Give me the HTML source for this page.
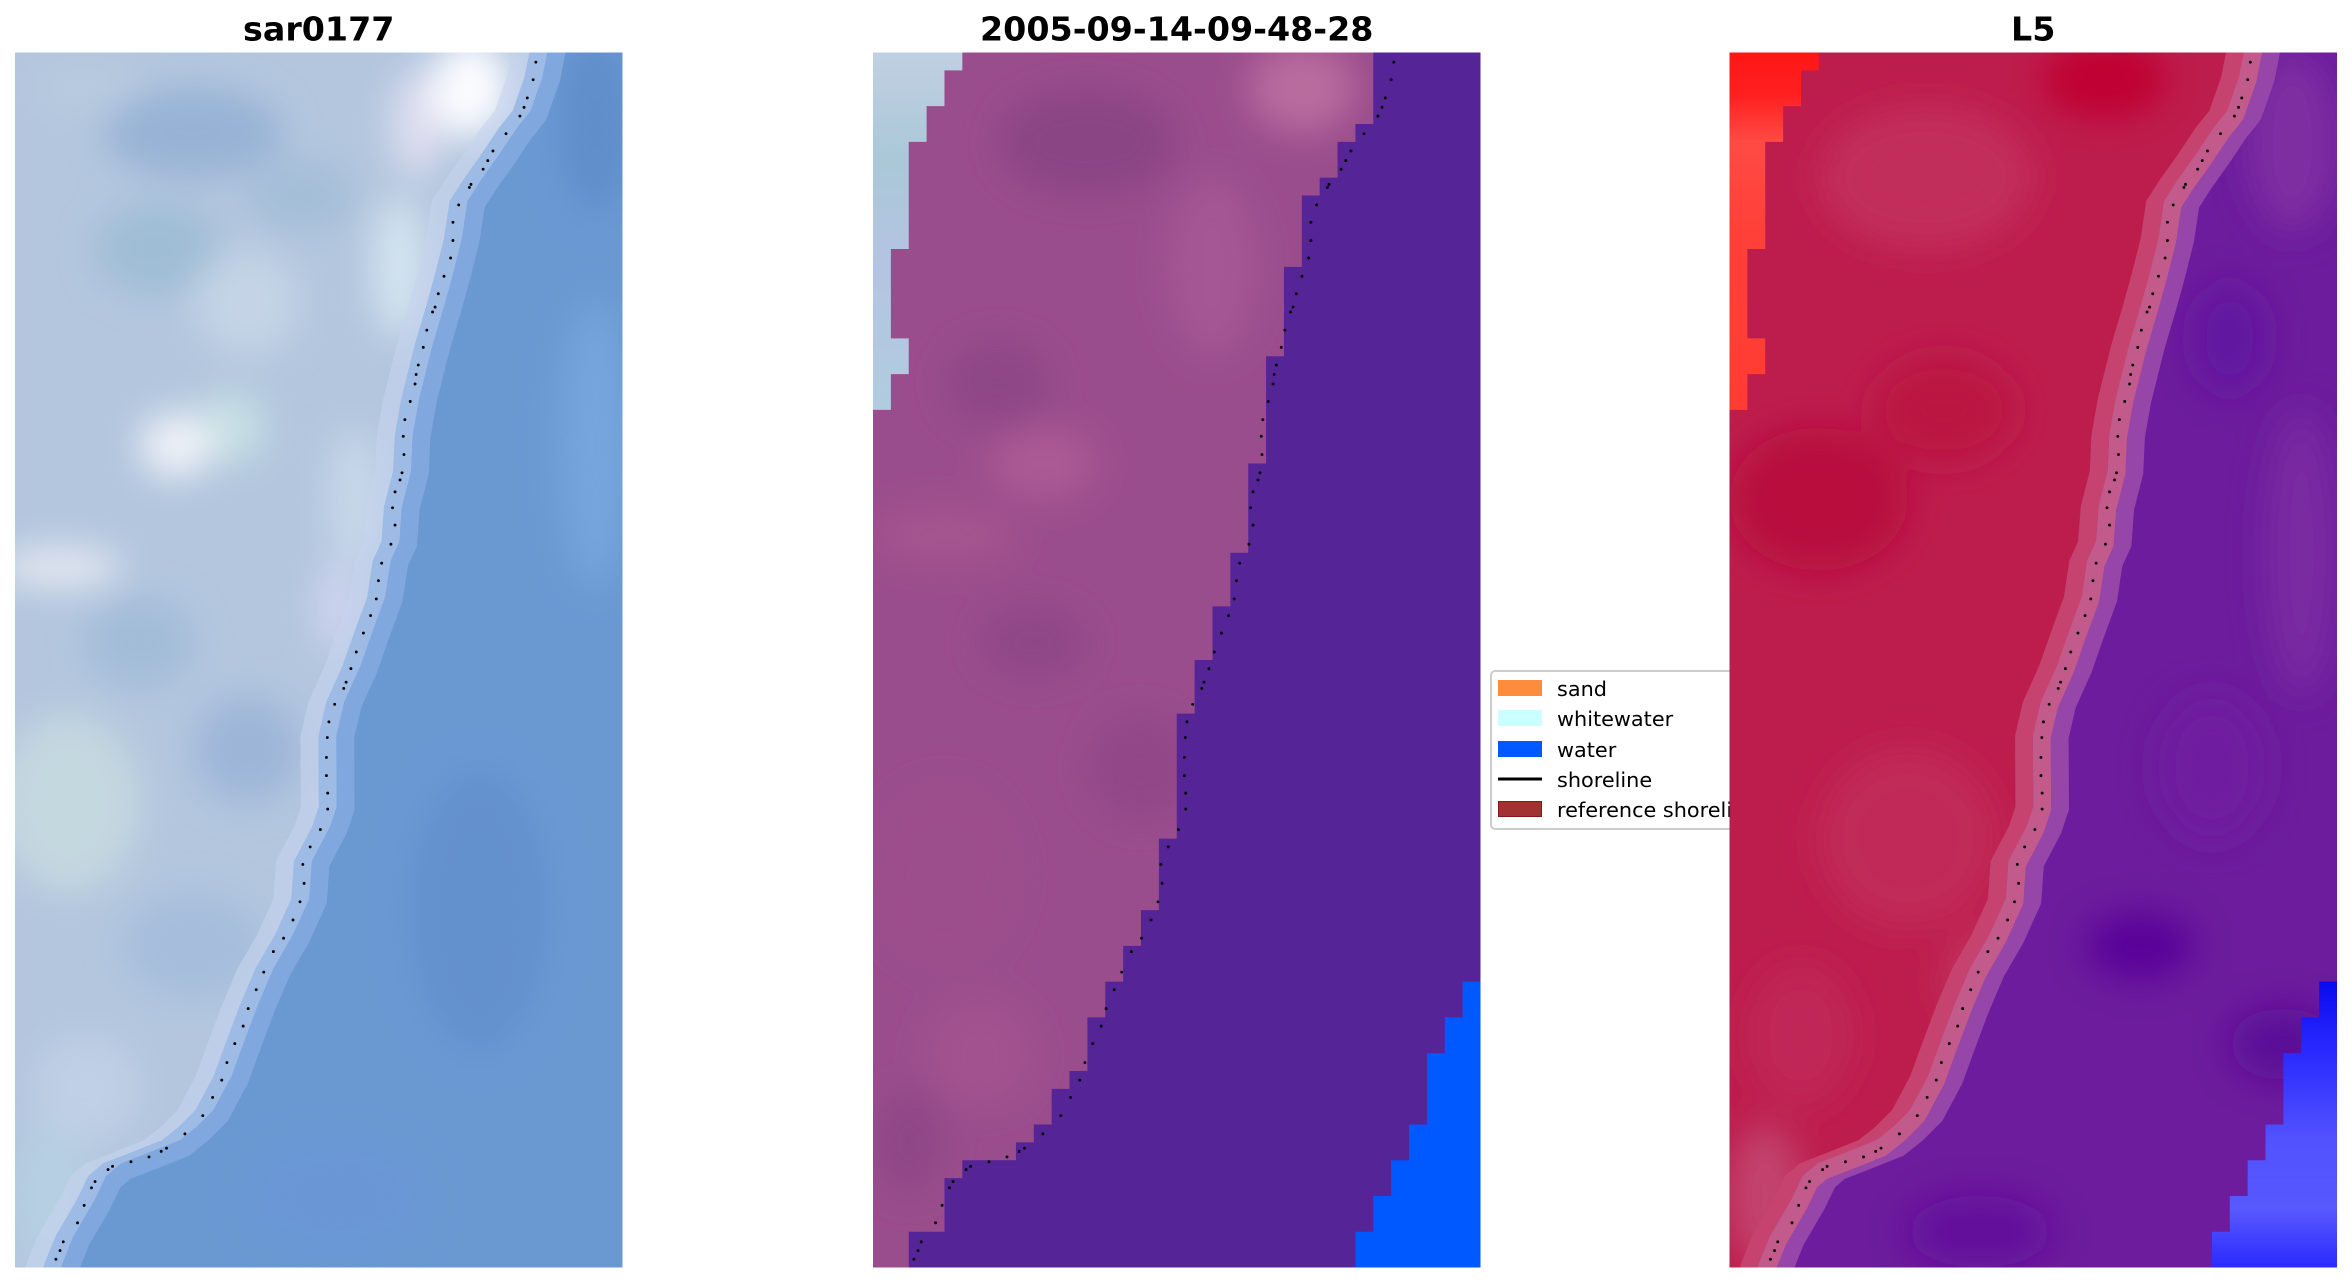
<!DOCTYPE html>
<html>
<head>
<meta charset="utf-8">
<style>
html,body{margin:0;padding:0;background:#ffffff;}
svg{display:block;}
</style>
</head>
<body>
<svg width="2352" height="1283" viewBox="0 0 2352 1283" xmlns="http://www.w3.org/2000/svg">
<defs>
  <filter id="bl" x="-50%" y="-50%" width="200%" height="200%"><feGaussianBlur stdDeviation="1"/></filter>
  <clipPath id="pc"><rect x="0" y="0" width="34" height="68"/></clipPath>
  <polyline id="S" fill="none" points="29.8,-2 29.3,0 29.0,1.5 28.3,3.5 27.5,4.5 26.5,6 25.5,7.4 24.8,8.5 24.5,10.5 24.0,12.5 23.5,14.3 22.85,16.5 22.1,19.5 21.75,21.5 21.66,23.5 21.15,25.5 21.0,27.5 20.5,28.6 20.2,30.6 19.5,32.5 18.8,34.5 17.9,36.5 17.48,38.3 17.5,42.3 17.1,43.5 16.1,45.4 15.95,47.5 15.0,49.6 13.9,51.5 13.05,53.5 12.3,55.5 11.57,57.5 10.5,59.5 9.5,60.5 8.5,61.3 6.5,62.1 5.2,62.6 4.5,63.2 3.87,64.5 2.7,66.5 2.1,68 1.5,70"/>
  <polygon id="W" points="29.8,-2 29.3,0 29.0,1.5 28.3,3.5 27.5,4.5 26.5,6 25.5,7.4 24.8,8.5 24.5,10.5 24.0,12.5 23.5,14.3 22.85,16.5 22.1,19.5 21.75,21.5 21.66,23.5 21.15,25.5 21.0,27.5 20.5,28.6 20.2,30.6 19.5,32.5 18.8,34.5 17.9,36.5 17.48,38.3 17.5,42.3 17.1,43.5 16.1,45.4 15.95,47.5 15.0,49.6 13.9,51.5 13.05,53.5 12.3,55.5 11.57,57.5 10.5,59.5 9.5,60.5 8.5,61.3 6.5,62.1 5.2,62.6 4.5,63.2 3.87,64.5 2.7,66.5 2.1,68 1.5,70 36,70 36,-2"/>
  <g id="D" fill="#000000">
    <circle cx="29.15" cy="0.54" r="0.08"/><circle cx="29.0" cy="1.52" r="0.08"/><circle cx="28.67" cy="2.54" r="0.08"/><circle cx="28.49" cy="3.07" r="0.08"/><circle cx="28.26" cy="3.56" r="0.08"/><circle cx="27.48" cy="4.54" r="0.08"/><circle cx="26.75" cy="5.51" r="0.08"/><circle cx="26.46" cy="6.05" r="0.08"/><circle cx="26.2" cy="6.53" r="0.08"/><circle cx="25.52" cy="7.38" r="0.08"/><circle cx="25.43" cy="7.55" r="0.08"/><circle cx="24.83" cy="8.53" r="0.08"/><circle cx="24.51" cy="9.5" r="0.08"/><circle cx="24.51" cy="10.52" r="0.08"/><circle cx="24.38" cy="11.5" r="0.08"/><circle cx="24.01" cy="12.52" r="0.08"/><circle cx="23.69" cy="13.5" r="0.08"/><circle cx="23.51" cy="14.25" r="0.08"/><circle cx="23.37" cy="14.52" r="0.08"/><circle cx="23.05" cy="15.54" r="0.08"/><circle cx="22.85" cy="16.5" r="0.08"/><circle cx="22.57" cy="17.49" r="0.08"/><circle cx="22.45" cy="18.02" r="0.08"/><circle cx="22.39" cy="18.55" r="0.08"/><circle cx="22.12" cy="19.53" r="0.08"/><circle cx="21.82" cy="20.55" r="0.08"/><circle cx="21.73" cy="21.48" r="0.08"/><circle cx="21.77" cy="22.5" r="0.08"/><circle cx="21.66" cy="23.52" r="0.08"/><circle cx="21.55" cy="23.92" r="0.08"/><circle cx="21.27" cy="24.59" r="0.08"/><circle cx="21.13" cy="25.48" r="0.08"/><circle cx="21.27" cy="26.45" r="0.08"/><circle cx="21.04" cy="27.52" r="0.08"/><circle cx="20.52" cy="28.58" r="0.08"/><circle cx="20.34" cy="29.56" r="0.08"/><circle cx="20.22" cy="30.58" r="0.08"/><circle cx="19.9" cy="31.51" r="0.08"/><circle cx="19.5" cy="32.49" r="0.08"/><circle cx="19.1" cy="33.55" r="0.08"/><circle cx="18.8" cy="34.48" r="0.08"/><circle cx="18.53" cy="35.24" r="0.08"/><circle cx="18.4" cy="35.59" r="0.08"/><circle cx="17.89" cy="36.48" r="0.08"/><circle cx="17.57" cy="37.46" r="0.08"/><circle cx="17.48" cy="38.34" r="0.08"/><circle cx="17.43" cy="39.45" r="0.08"/><circle cx="17.43" cy="40.47" r="0.08"/><circle cx="17.5" cy="41.45" r="0.08"/><circle cx="17.5" cy="42.34" r="0.08"/><circle cx="17.09" cy="43.49" r="0.08"/><circle cx="16.52" cy="44.46" r="0.08"/><circle cx="16.11" cy="45.44" r="0.08"/><circle cx="16.18" cy="46.5" r="0.08"/><circle cx="15.95" cy="47.53" r="0.08"/><circle cx="15.56" cy="48.55" r="0.08"/><circle cx="15.03" cy="49.57" r="0.08"/><circle cx="14.46" cy="50.32" r="0.08"/><circle cx="13.92" cy="51.47" r="0.08"/><circle cx="13.5" cy="52.45" r="0.08"/><circle cx="13.05" cy="53.51" r="0.08"/><circle cx="12.77" cy="54.49" r="0.08"/><circle cx="12.3" cy="55.47" r="0.08"/><circle cx="11.86" cy="56.53" r="0.08"/><circle cx="11.57" cy="57.51" r="0.08"/><circle cx="11.06" cy="58.48" r="0.08"/><circle cx="10.51" cy="59.5" r="0.08"/><circle cx="9.51" cy="60.52" r="0.08"/><circle cx="8.48" cy="61.32" r="0.08"/><circle cx="8.18" cy="61.5" r="0.08"/><circle cx="7.5" cy="61.81" r="0.08"/><circle cx="6.49" cy="62.08" r="0.08"/><circle cx="5.46" cy="62.34" r="0.08"/><circle cx="5.21" cy="62.52" r="0.08"/><circle cx="4.48" cy="63.19" r="0.08"/><circle cx="4.28" cy="63.54" r="0.08"/><circle cx="3.87" cy="64.52" r="0.08"/><circle cx="3.5" cy="65.5" r="0.08"/><circle cx="2.7" cy="66.56" r="0.08"/><circle cx="2.52" cy="67.05" r="0.08"/><circle cx="2.29" cy="67.54" r="0.08"/>
  </g>
  <polygon id="WW" points="0,0 5,0 5,1 4,1 4,3 3,3 3,5 2,5 2,11 1,11 1,16 2,16 2,18 1,18 1,20 0,20"/>
  <polygon id="B" points="34,52 33,52 33,54 32,54 32,56 31,56 31,60 30,60 30,62 29,62 29,64 28,64 28,66 27,66 27,68 34,68"/>
  <linearGradient id="gw2" x1="0" y1="0" x2="0" y2="1">
    <stop offset="0" stop-color="#c0d0e2"/><stop offset="0.3" stop-color="#aac8d8"/><stop offset="0.6" stop-color="#b4c4e2"/><stop offset="1" stop-color="#b0cce0"/>
  </linearGradient>
  <linearGradient id="gw3" x1="0" y1="0" x2="0" y2="1">
    <stop offset="0" stop-color="#ff1616"/><stop offset="0.12" stop-color="#ff2020"/><stop offset="0.25" stop-color="#ff4a44"/><stop offset="0.5" stop-color="#ff4038"/><stop offset="1" stop-color="#ff3c34"/>
  </linearGradient>
  <linearGradient id="gb3" x1="0" y1="0" x2="0" y2="1">
    <stop offset="0" stop-color="#0a0af0"/><stop offset="0.25" stop-color="#2a2aff"/><stop offset="0.55" stop-color="#5252ff"/><stop offset="0.8" stop-color="#5858ff"/><stop offset="1" stop-color="#2a2aff"/>
  </linearGradient>
</defs>

<!-- Titles -->
<g font-family="'DejaVu Sans','Liberation Sans',sans-serif" font-weight="bold" font-size="33.3" fill="#000" text-anchor="middle">
  <text x="318.75" y="40.7">sar0177</text>
  <text x="1176.75" y="40.7">2005-09-14-09-48-28</text>
  <text x="2033.25" y="40.7">L5</text>
</g>

<!-- Panel 1 -->
<g transform="translate(15,52.5) scale(17.8676)">
 <g clip-path="url(#pc)">
  <rect x="0" y="0" width="34" height="68" fill="#b3c6de"/>
  <g filter="url(#bl)">
    <ellipse cx="10" cy="4.5" rx="5" ry="2.5" fill="#97b2d5"/>
    <ellipse cx="4" cy="2" rx="3" ry="1.5" fill="#b8cadf"/>
    <ellipse cx="8" cy="11" rx="3.5" ry="2.5" fill="#9fbdd5"/>
    <ellipse cx="13" cy="14" rx="3" ry="3" fill="#c4d4e6"/>
    <ellipse cx="16" cy="8" rx="3" ry="2" fill="#a4bed8"/>
    <ellipse cx="12" cy="21" rx="2" ry="2" fill="#c8e0e4"/>
    <ellipse cx="9" cy="22" rx="2" ry="1.8" fill="#f0f2f8"/>
    <ellipse cx="2.5" cy="28.8" rx="3.5" ry="1.2" fill="#e2e6f0"/>
    <ellipse cx="7" cy="33" rx="3" ry="2.5" fill="#a2bcd8"/>
    <ellipse cx="3" cy="42" rx="4" ry="5" fill="#c4d8e0"/>
    <ellipse cx="13" cy="39" rx="3" ry="3" fill="#9db6d8"/>
    <ellipse cx="10" cy="50" rx="4" ry="3" fill="#a6bedc"/>
    <ellipse cx="4" cy="58" rx="3" ry="3" fill="#c0d0e6"/>
    <ellipse cx="2" cy="64" rx="2" ry="4" fill="#b6d0e2"/>
    <ellipse cx="19" cy="25" rx="1.5" ry="4" fill="#c8d8ea"/>
    <ellipse cx="18" cy="31" rx="1.2" ry="2.5" fill="#d0d4f0"/>
    <ellipse cx="21.5" cy="12" rx="1.5" ry="4" fill="#d4e4f0"/>
    <ellipse cx="22.5" cy="4" rx="1.5" ry="3" fill="#dedef0"/>
    <ellipse cx="25.5" cy="2" rx="2.2" ry="2.8" fill="#fbfcff"/>
  </g>
  <use href="#W" fill="#6a99d2" transform="translate(0.5,0)"/>
  <g filter="url(#bl)">
    <ellipse cx="32.5" cy="4" rx="2" ry="5" fill="#5e8ecb"/>
    <ellipse cx="32.5" cy="22" rx="2" ry="8" fill="#74a5dc"/>
    <ellipse cx="26" cy="48" rx="4" ry="8" fill="#6491ce"/>
    <ellipse cx="18" cy="64" rx="5" ry="3" fill="#6a96d6"/>
  </g>
  <use href="#S" stroke="#c6d4ee" stroke-width="1" opacity="0.6" transform="translate(-1,0)"/>
  <use href="#S" stroke="#9ebbe6" stroke-width="1"/>
  <use href="#S" stroke="#80a8de" stroke-width="1" transform="translate(1,0)"/>
  <use href="#D"/>
 </g>
</g>

<!-- Panel 2 -->
<g transform="translate(873,52.5) scale(17.8676)">
 <g clip-path="url(#pc)">
  <rect x="0" y="0" width="34" height="68" fill="#9a4d8c"/>
  <g filter="url(#bl)">
    <ellipse cx="12" cy="5" rx="5" ry="3" fill="#8a4485"/>
    <ellipse cx="24" cy="2" rx="3" ry="2.5" fill="#b86c9e"/>
    <ellipse cx="19" cy="12" rx="2.5" ry="5" fill="#a45694"/>
    <ellipse cx="7" cy="18.5" rx="3" ry="2.5" fill="#8e4686"/>
    <ellipse cx="9.5" cy="23" rx="3" ry="2" fill="#ac5a94"/>
    <ellipse cx="4" cy="27" rx="4" ry="1.5" fill="#a6548f"/>
    <ellipse cx="9" cy="33" rx="3" ry="2" fill="#8e4688"/>
    <ellipse cx="15" cy="40" rx="3" ry="3" fill="#914788"/>
    <ellipse cx="4" cy="46" rx="4" ry="5" fill="#9c4e8c"/>
    <ellipse cx="6" cy="56" rx="3" ry="3" fill="#a2528f"/>
    <ellipse cx="2" cy="61" rx="2" ry="3" fill="#8f4786"/>
  </g>
  <polygon fill="#552497" points="2,68 2,66 4,66 4,63 5,63 5,62 8,62 8,61 9,61 9,60 10,60 10,58 11,58 11,57 12,57 12,54 13,54 13,52 14,52 14,50 15,50 15,48 16,48 16,44 17,44 17,37 18,37 18,34 19,34 19,31 20,31 20,28 21,28 21,23 22,23 22,17 23,17 23,12 24,12 24,8 25,8 25,7 26,7 26,5 27,5 27,4 28,4 28,0 34,0 34,68"/>
  <use href="#B" fill="#0058ff"/>
  <use href="#WW" fill="url(#gw2)"/>
  <use href="#D"/>
 </g>
</g>

<!-- Legend (drawn beneath panel 3) -->
<rect x="1491" y="671" width="290" height="158" rx="4" ry="4" fill="#ffffff" stroke="#cccccc" stroke-width="2"/>
<rect x="1498" y="680" width="44" height="16" fill="#ff8c3c"/>
<rect x="1498" y="710" width="44" height="16" fill="#ccffff"/>
<rect x="1498" y="741" width="44" height="16" fill="#0058ff"/>
<line x1="1498" y1="779" x2="1542" y2="779" stroke="#000" stroke-width="3"/>
<rect x="1498.5" y="801.5" width="43" height="15" fill="#a03232" stroke="#861818" stroke-width="1"/>
<g font-family="'DejaVu Sans','Liberation Sans',sans-serif" font-size="20.8" fill="#000">
  <text x="1557" y="696">sand</text>
  <text x="1557" y="726">whitewater</text>
  <text x="1557" y="757">water</text>
  <text x="1557" y="787">shoreline</text>
  <text x="1557" y="817">reference shoreline</text>
</g>

<!-- Panel 3 -->
<g transform="translate(1729.5,52.5) scale(17.8676)">
 <g clip-path="url(#pc)">
  <rect x="0" y="0" width="34" height="68" fill="#bd1d4d"/>
  <g filter="url(#bl)">
    <ellipse cx="21" cy="1.5" rx="3.5" ry="2.2" fill="#c00232"/>
    <ellipse cx="11" cy="7" rx="6" ry="4" fill="#c22e5c"/>
    <ellipse cx="12" cy="20" rx="4" ry="3" fill="#bb1243"/>
    <ellipse cx="5" cy="25" rx="5" ry="4" fill="#b80a3c"/>
    <ellipse cx="10" cy="44" rx="5" ry="5" fill="#c12a58"/>
    <ellipse cx="15" cy="52" rx="3" ry="3" fill="#c2345f"/>
    <ellipse cx="4" cy="55" rx="3" ry="4" fill="#c02656"/>
    <ellipse cx="2" cy="64" rx="2" ry="4" fill="#c24470"/>
  </g>
  <use href="#W" fill="#6c1c9c" transform="translate(-1.5,0)"/>
  <g filter="url(#bl)">
    <ellipse cx="31.5" cy="5" rx="2.5" ry="5" fill="#7f2ea2"/>
    <ellipse cx="32" cy="28" rx="2" ry="8" fill="#7a2aa2"/>
    <ellipse cx="28" cy="16" rx="2" ry="3" fill="#6212a0"/>
    <ellipse cx="27" cy="40" rx="3" ry="4" fill="#701ea0"/>
    <ellipse cx="23" cy="50" rx="3" ry="1.8" fill="#58069a"/>
    <ellipse cx="31" cy="55.5" rx="3" ry="2" fill="#5a0898"/>
    <ellipse cx="14" cy="66" rx="4" ry="2" fill="#640e9c"/>
  </g>
  <use href="#S" stroke="#9646a8" stroke-width="1" transform="translate(1,0)"/>
  <use href="#S" stroke="#c6436f" stroke-width="1" transform="translate(-1,0)"/>
  <use href="#S" stroke="#c25b8b" stroke-width="1"/>
  <use href="#WW" fill="url(#gw3)"/>
  <use href="#B" fill="url(#gb3)"/>
  <use href="#D"/>
 </g>
</g>
</svg>
</body>
</html>
